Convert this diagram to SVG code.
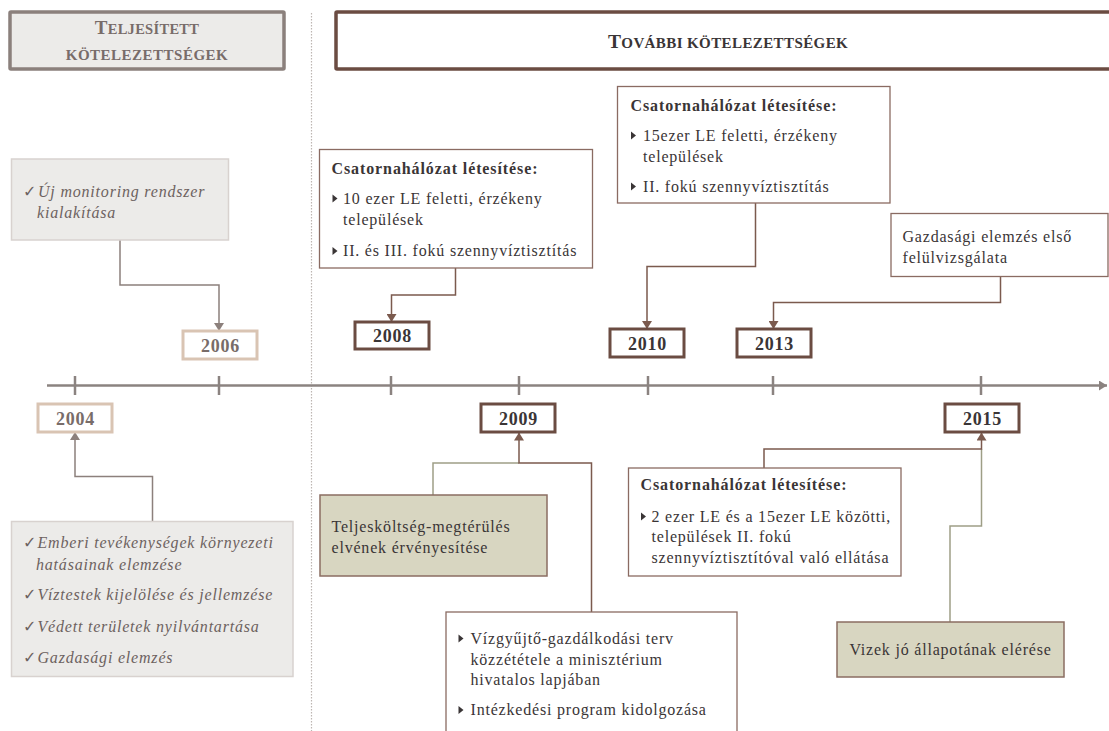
<svg xmlns="http://www.w3.org/2000/svg" width="1109" height="731" viewBox="0 0 1109 731">
  <style>
    text { font-family: "Liberation Serif", "Times New Roman", serif; }
    .body { font-size: 16px; letter-spacing: 0.8px; fill: #3a3536; }
    .ttl { font-size: 16px; font-weight: bold; letter-spacing: 0.9px; fill: #3a3536; }
    .done { font-size: 16px; font-style: italic; letter-spacing: 0.8px; fill: #6d6260; }
    .chk { font-family: "DejaVu Sans", sans-serif; font-style: normal; font-size: 16px; letter-spacing: 0; }
    .yr { font-size: 18px; font-weight: bold; letter-spacing: 0.8px; text-anchor: middle; }
    .yr-old { fill: #786c69; }
    .yr-new { fill: #3a3536; }
    .box-old { fill: #ffffff; stroke: #d9c4b3; stroke-width: 3; }
    .box-new { fill: #ffffff; stroke: #6b4c42; stroke-width: 3; }
    .note { fill: #ffffff; stroke: #8a6b62; stroke-width: 1.3; }
    .grey-note { fill: #ecebe9; stroke: #d8d2cf; stroke-width: 1.5; }
    .olive-note { fill: #d8d6c1; stroke: #8b6d62; stroke-width: 1.5; }
    .bul { fill: #3a3536; }
    .c-grey { fill: none; stroke: #8c807c; stroke-width: 1.5; }
    .c-brown { fill: none; stroke: #7b5a4e; stroke-width: 1.5; }
    .c-olive { fill: none; stroke: #9e9e86; stroke-width: 1.5; }
  </style>
  <defs>
    <marker id="ah-grey" viewBox="0 0 8 10" refX="8" refY="5" markerWidth="8" markerHeight="10" markerUnits="userSpaceOnUse" orient="auto">
      <path d="M0,0 L8,5 L0,10 z" fill="#8c807c"/>
    </marker>
    <marker id="ah-brown" viewBox="0 0 8 10" refX="8" refY="5" markerWidth="8" markerHeight="10" markerUnits="userSpaceOnUse" orient="auto">
      <path d="M0,0 L8,5 L0,10 z" fill="#7b5a4e"/>
    </marker>
    <marker id="ah-axis" viewBox="0 0 8 10" refX="8" refY="5" markerWidth="8" markerHeight="10" markerUnits="userSpaceOnUse" orient="auto">
      <path d="M0,0 L8,5 L0,10 z" fill="#8b8380"/>
    </marker>
    <path id="tri" d="M0,-4 L5,0 L0,4 z"/>
  </defs>

  <rect width="1109" height="731" fill="#ffffff"/>

  <!-- section headers -->
  <g id="header-done">
    <rect x="10" y="12" width="274" height="57" fill="#ecebe9" stroke="#8b807c" stroke-width="3.5" rx="1"/>
    <text x="147" y="34" text-anchor="middle" font-weight="bold" fill="#786c69" font-size="14.5" letter-spacing="0.3"><tspan font-size="19">T</tspan>ELJESÍTETT</text>
    <text x="147" y="60" text-anchor="middle" font-weight="bold" fill="#786c69" font-size="15" letter-spacing="0.5">KÖTELEZETTSÉGEK</text>
  </g>
  <line id="divider" x1="311.5" y1="13" x2="311.5" y2="731" stroke="#bdb6b2" stroke-width="1.2" stroke-dasharray="1.5 1.5"/>
  <g id="header-next">
    <rect x="336" y="12" width="780" height="57" fill="#ffffff" stroke="#6b4c42" stroke-width="3.5" rx="1"/>
    <text x="728" y="48" text-anchor="middle" font-weight="bold" fill="#3a3536" font-size="15" letter-spacing="0.4"><tspan font-size="19.5">T</tspan>OVÁBBI KÖTELEZETTSÉGEK</text>
  </g>

  <!-- time axis -->
  <g id="axis" stroke="#8b8380" stroke-width="2.5">
    <line x1="47" y1="385.5" x2="1107" y2="385.5" marker-end="url(#ah-axis)"/>
    <line x1="75" y1="376" x2="75" y2="395"/>
    <line x1="219" y1="376" x2="219" y2="395"/>
    <line x1="391" y1="376" x2="391" y2="395"/>
    <line x1="519" y1="376" x2="519" y2="395"/>
    <line x1="648" y1="376" x2="648" y2="395"/>
    <line x1="773" y1="376" x2="773" y2="395"/>
    <line x1="981" y1="376" x2="981" y2="395"/>
  </g>

  <!-- connectors -->
  <g id="connectors">
    <path class="c-grey" d="M120,240 V285 H219 V331" marker-end="url(#ah-grey)"/>
    <path class="c-grey" d="M152.5,521.5 V476.5 H75 V432" marker-end="url(#ah-grey)"/>
    <path class="c-brown" d="M455.5,268 V295 H391.5 V322" marker-end="url(#ah-brown)"/>
    <path class="c-brown" d="M755.5,203 V266.5 H647 V329" marker-end="url(#ah-brown)"/>
    <path class="c-brown" d="M1000.5,276.5 V302.5 H773.5 V329" marker-end="url(#ah-brown)"/>
    <path class="c-olive" d="M433,495 V463 H519"/>
    <path class="c-brown" d="M591.5,612 V463 H519 V432.5" marker-end="url(#ah-brown)"/>
    <path class="c-olive" d="M950,622 V526 H981.5 V449"/>
    <path class="c-brown" d="M764,468 V449 H981.5 V432.5" marker-end="url(#ah-brown)"/>
  </g>

  <!-- year markers -->
  <g id="y2004"><rect class="box-old" x="38" y="404" width="74" height="28"/><text class="yr yr-old" x="75.5" y="424.5">2004</text></g>
  <g id="y2006"><rect class="box-old" x="183" y="331" width="74" height="28"/><text class="yr yr-old" x="220.5" y="351.5">2006</text></g>
  <g id="y2008"><rect class="box-new" x="355" y="322" width="74" height="27"/><text class="yr yr-new" x="392.5" y="342">2008</text></g>
  <g id="y2009"><rect class="box-new" x="481" y="404" width="74" height="28"/><text class="yr yr-new" x="518.5" y="424.5">2009</text></g>
  <g id="y2010"><rect class="box-new" x="610" y="329" width="74" height="28"/><text class="yr yr-new" x="647.5" y="349.5">2010</text></g>
  <g id="y2013"><rect class="box-new" x="737" y="329" width="74" height="28"/><text class="yr yr-new" x="774.5" y="349.5">2013</text></g>
  <g id="y2015"><rect class="box-new" x="945" y="404" width="74" height="28"/><text class="yr yr-new" x="982.5" y="424.5">2015</text></g>

  <!-- completed obligations -->
  <g id="monitoring">
    <rect class="grey-note" x="11.5" y="159" width="217" height="81"/>
    <text class="done" x="23" y="197"><tspan class="chk">✓</tspan><tspan x="38">Új monitoring rendszer</tspan></text>
    <text class="done" x="37" y="218">kialakítása</text>
  </g>
  <g id="analysis-2004">
    <rect class="grey-note" x="11.5" y="521.5" width="281.5" height="155"/>
    <text class="done" x="23" y="548"><tspan class="chk">✓</tspan><tspan x="37.5">Emberi tevékenységek környezeti</tspan></text>
    <text class="done" x="36" y="570">hatásainak elemzése</text>
    <text class="done" x="23" y="600"><tspan class="chk">✓</tspan><tspan x="37.5">Víztestek kijelölése és jellemzése</tspan></text>
    <text class="done" x="23" y="631.5"><tspan class="chk">✓</tspan><tspan x="37.5">Védett területek nyilvántartása</tspan></text>
    <text class="done" x="23" y="662.5"><tspan class="chk">✓</tspan><tspan x="37.5">Gazdasági elemzés</tspan></text>
  </g>

  <!-- further obligations -->
  <g id="sewer-2008">
    <rect class="note" x="319.5" y="149.5" width="273" height="118.5"/>
    <text class="ttl" x="331.5" y="173.5">Csatornahálózat létesítése:</text>
    <use href="#tri" class="bul" x="332.5" y="198.5"/>
    <text class="body" x="343" y="203.5">10 ezer LE feletti, érzékeny</text>
    <text class="body" x="343" y="224.5">települések</text>
    <use href="#tri" class="bul" x="332.5" y="251"/>
    <text class="body" x="343" y="256">II. és III. fokú szennyvíztisztítás</text>
  </g>
  <g id="sewer-2010">
    <rect class="note" x="617.5" y="86.5" width="272.5" height="116.5"/>
    <text class="ttl" x="630.5" y="110.5">Csatornahálózat létesítése:</text>
    <use href="#tri" class="bul" x="631" y="135.5"/>
    <text class="body" x="643" y="140.5">15ezer LE feletti, érzékeny</text>
    <text class="body" x="643" y="161.5">települések</text>
    <use href="#tri" class="bul" x="631" y="186.5"/>
    <text class="body" x="643" y="191.5">II. fokú szennyvíztisztítás</text>
  </g>
  <g id="review-2013">
    <rect class="note" x="891" y="213.5" width="217" height="63"/>
    <text class="body" x="902.5" y="242">Gazdasági elemzés első</text>
    <text class="body" x="902.5" y="263">felülvizsgálata</text>
  </g>
  <g id="cost-recovery">
    <rect class="olive-note" x="320" y="495" width="227" height="81"/>
    <text class="body" x="331.5" y="531.5">Teljesköltség-megtérülés</text>
    <text class="body" x="331.5" y="552.5">elvének érvényesítése</text>
  </g>
  <g id="rbmp-2009">
    <rect class="note" x="446" y="612" width="291" height="125"/>
    <use href="#tri" class="bul" x="458.5" y="638.5"/>
    <text class="body" x="470.5" y="643.5">Vízgyűjtő-gazdálkodási terv</text>
    <text class="body" x="470.5" y="664.5">közzététele a minisztérium</text>
    <text class="body" x="470.5" y="684.5">hivatalos lapjában</text>
    <use href="#tri" class="bul" x="458.5" y="710"/>
    <text class="body" x="470.5" y="715">Intézkedési program kidolgozása</text>
  </g>
  <g id="sewer-2015">
    <rect class="note" x="628.5" y="468" width="272.5" height="108"/>
    <text class="ttl" x="640.5" y="490">Csatornahálózat létesítése:</text>
    <use href="#tri" class="bul" x="641" y="516.5"/>
    <text class="body" x="651.5" y="521.5">2 ezer LE és a 15ezer LE közötti,</text>
    <text class="body" x="651.5" y="541.5">települések II. fokú</text>
    <text class="body" x="651.5" y="563">szennyvíztisztítóval való ellátása</text>
  </g>
  <g id="good-status">
    <rect class="olive-note" x="837" y="622" width="227" height="55"/>
    <text class="body" x="950.5" y="655" text-anchor="middle">Vizek jó állapotának elérése</text>
  </g>
</svg>
